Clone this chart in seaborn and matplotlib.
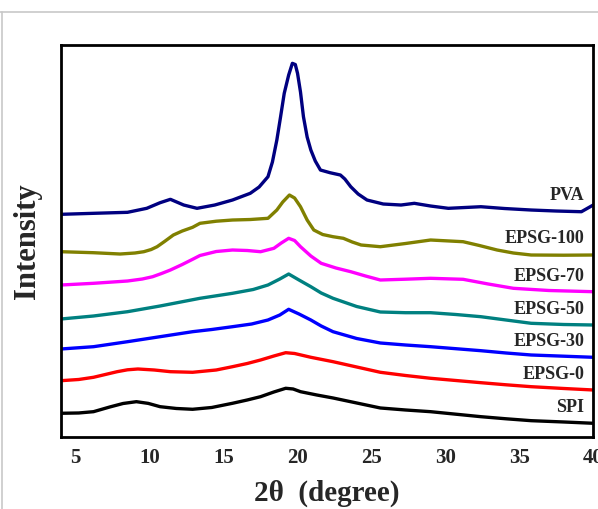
import numpy as np
import pandas as pd
import matplotlib
matplotlib.use("Agg")
import matplotlib.pyplot as plt
import seaborn as sns

# XRD curves, values (arbitrary intensity, stacked)
spi_x = [4, 5.2, 6.2, 7.3, 8.2, 9.1, 9.9, 10.7, 11.8, 12.9, 14.2, 15.6, 16.6, 17.5, 18.4, 19.2, 19.7, 20.2, 21.3, 22.4,
         24.0, 25.6, 27.3, 29, 30.7, 32.4, 34.1, 35.8, 38, 40]
spi_y = [23.7, 24.0, 25.3, 30, 33.5, 35.3, 33.6, 30.3, 28.5, 27.7, 29.5, 33.7, 37, 40.3, 45, 48.7, 48, 45.3, 42, 39,
         34, 29, 27, 25.3, 22.8, 20.3, 18.2, 16.3, 15, 13.7]

e0_x = [4, 5.2, 6.2, 7.0, 7.8, 8.5, 9.2, 10.3, 11.4, 12.9, 14.5, 15.6, 16.6, 17.5, 18.4, 19.2, 19.8, 20.9, 22.4, 24.0,
        25.6, 27.3, 29, 30.7, 32.4, 34.1, 35.8, 38, 40]
e0_y = [56.3, 57.5, 59.7, 62.5, 65.3, 67.2, 68, 67, 65.3, 64.7, 67, 70.3, 73.5, 77, 81, 84.3, 83.5, 79.7, 75.3, 70,
        64.7, 61.5, 58.7, 56.5, 54.3, 52.2, 50.3, 48.5, 47]

e30_x = [4, 6.2, 8.5, 10.7, 12.9, 14.2, 15.6, 16.9, 18, 18.8, 19.4, 20.1, 20.9, 21.6, 22.4, 24.0, 25.6, 27.3, 29, 30.7,
         32.4, 34.1, 35.8, 38, 40]
e30_y = [88, 90.3, 95.3, 100.3, 105.3, 107.5, 110.3, 113, 117, 122, 127.7, 123, 117, 111, 105.3, 98.5, 94, 92, 90.3, 88.3,
         86.3, 84, 82, 80.8, 79.7]

e50_x = [4, 6.2, 8.5, 10.7, 13.4, 15.6, 17.0, 18, 18.8, 19.4, 20.1, 20.9, 21.6, 22.4, 24.0, 25.6, 27.3, 29, 30.7, 32.4,
         34.1, 35.8, 38, 40]
e50_y = [118, 121, 125.3, 131, 138.7, 143.7, 147.5, 152, 158, 163, 157, 150.3, 144, 138.7, 130.5, 125, 124.3, 124.3, 122.5, 120.3,
         117, 113.7, 112.5, 112]

e70_x = [4, 6.2, 8.5, 9.5, 10.2, 10.8, 11.4, 12.2, 12.9, 13.4, 14.5, 15.6, 16.6, 17.5, 18.4, 18.9, 19.4, 19.8, 20.2, 20.9,
         21.6, 22.6, 23.6, 24.6, 25.6, 27.3, 29, 31.2, 32.9, 34.6, 37, 40]
e70_y = [152, 153.7, 156, 158, 160.3, 163.5, 167, 172.5, 177.7, 181.5, 185.5, 187, 186.5, 185.3, 188.7, 194, 198.7, 196.5, 190.3, 181,
         173.7, 169, 165.3, 161, 157, 157.8, 158.7, 157.7, 153, 148.7, 146.5, 145.3]

e100_x = [4, 6.2, 8.0, 9.0, 9.6, 10.1, 10.5, 11.0, 11.6, 12.2, 12.9, 13.4, 14.5, 15.6, 16.8, 18, 18.6, 19.0, 19.45, 19.8,
          20.2, 20.65, 21.1, 21.7, 22.4, 23.1, 23.7, 24.3, 25.6, 27.3, 29, 31.2, 32.3, 33.5, 34.6, 35.8, 38, 40]
e100_y = [185.3, 184.3, 183, 184, 185.3, 187.5, 190.3, 195.5, 202, 206, 209.7, 213.7, 215.8, 217, 217.5, 218.7, 227, 235, 242, 239,
          230.3, 217, 207, 202.5, 200.3, 198.7, 195, 192, 190.3, 193.5, 197, 195.3, 191.5, 187, 184, 182, 181.8, 182]

pva_x = [4, 6.2, 8.5, 9.8, 10.7, 11.4, 12.3, 13.2, 14.4, 15.6, 16.8, 17.4, 18, 18.3, 18.6, 18.85, 19.1, 19.4, 19.65, 19.85,
         20, 20.2, 20.4, 20.65, 20.9, 21.2, 21.55, 22.2, 22.9, 23.2, 23.6, 24.1, 24.7, 25.8, 27, 27.9, 29, 30.2, 31.3, 32.4,
         34, 35.8, 37.5, 39.2, 40]
pva_y = [222.7, 223.7, 224.7, 228.7, 234.3, 237.7, 232, 228.7, 232, 237, 243.7, 250, 260.3, 275, 297, 320, 343.7, 362, 373.7, 372.5,
         363.7, 345, 320.3, 300, 287, 276, 267, 264.3, 262, 258, 250.3, 243, 237, 233, 232, 233.7, 231, 228.7, 229.5, 230.3,
         228.5, 227, 226, 225.3, 232]

names = ["SPI", "EPSG-0", "EPSG-30", "EPSG-50", "EPSG-70", "EPSG-100", "PVA"]
label_y = [29, 62, 95, 127, 161, 199, 242]
colors = ["black", "#ff0000", "#0000ff", "#008080", "#ff00ff", "#808000", "#000080"]

xs = [spi_x, e0_x, e30_x, e50_x, e70_x, e100_x, pva_x]
ys = [spi_y, e0_y, e30_y, e50_y, e70_y, e100_y, pva_y]
frames = []
for n, x, y in zip(names, xs, ys):
    frames.append(pd.DataFrame({"two_theta": x, "intensity": y, "sample": n}))
df = pd.concat(frames, ignore_index=True)

sns.set_style("white")
plt.rcParams['font.family'] = ['Liberation Serif', 'DejaVu Serif']
plt.rcParams['font.weight'] = 'bold'

fig = plt.figure(figsize=(5.98, 5.09), dpi=100)
ax = fig.add_axes([0.102, 0.1415, 0.890, 0.770])

sns.lineplot(data=df, x="two_theta", y="intensity", hue="sample", hue_order=names,
             palette=colors, sort=True, linewidth=2.4, legend=False, ax=ax)
for ln in ax.get_lines():
    ln.set_solid_joinstyle("round")

for n, yy in zip(names, label_y):
    ax.text(39.4, yy, n, ha="right", va="center", fontsize=13, fontweight="bold")

ax.set_xlim(4, 40)
ax.set_ylim(0, 392)
ax.set_xticks([5, 10, 15, 20, 25, 30, 35, 40])
ax.set_yticks([])
ax.tick_params(axis="x", direction="in", length=7, width=1.5, labelsize=15, pad=8)
for lab in ax.get_xticklabels():
    lab.set_fontweight("bold")
for sp in ax.spines.values():
    sp.set_linewidth(2)
    sp.set_color("black")

ax.set_xlabel("2θ  (degree)", fontsize=21, fontweight="bold", labelpad=8)
ax.set_ylabel("Intensity", fontsize=22, fontweight="bold", labelpad=14)

# screenshot frame lines
fig.add_artist(plt.Line2D([0, 1], [1 - 12 / 509, 1 - 12 / 509], color="#c8c8c8", lw=1.2))
fig.add_artist(plt.Line2D([1.5 / 598, 1.5 / 598], [0, 1 - 12 / 509], color="#c8c8c8", lw=1.2))

fig.savefig("out.png", dpi=100)
